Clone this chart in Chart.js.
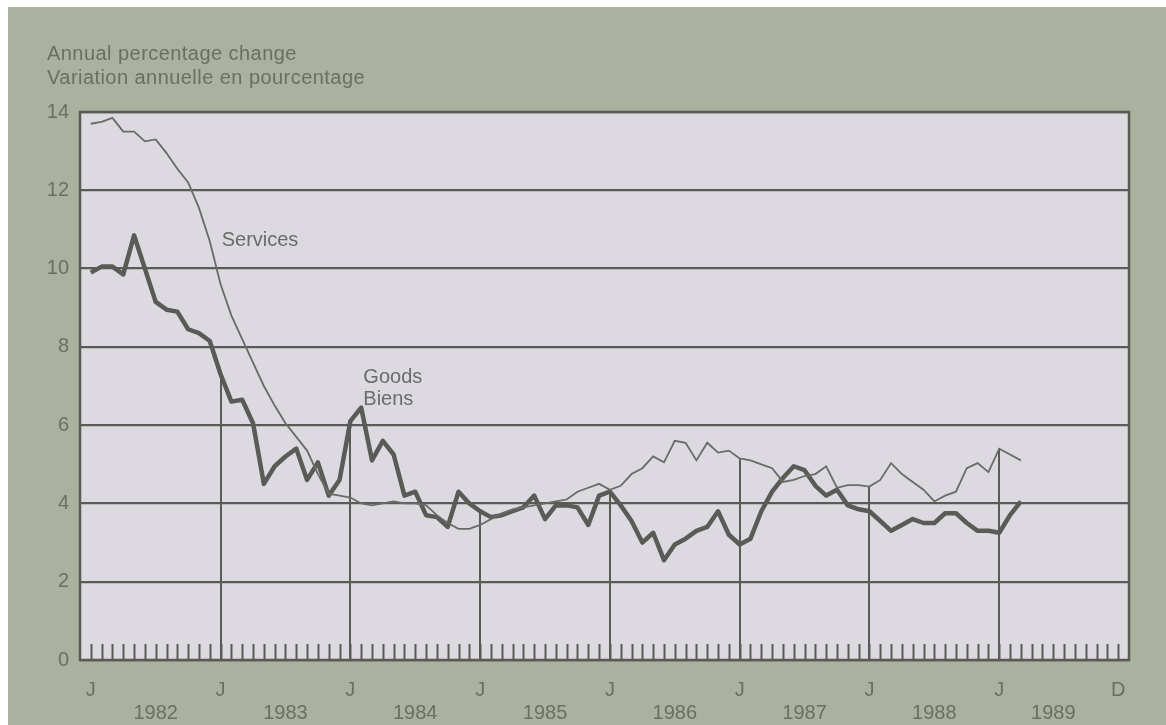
<!DOCTYPE html>
<html lang="en">
<head>
<meta charset="UTF-8">
<title>Goods and services - annual percentage change</title>
<script src="https://cdn.jsdelivr.net/npm/chart.js@4.4.0/dist/chart.umd.min.js"></script>
<style>
  body { margin: 0; background: #ffffff; }
  #wrap { position: relative; width: 1166px; height: 725px; }
  #chart { position: absolute; left: 0; top: 0; }
  #title {
    position: absolute; left: 47px; top: 41px;
    font: 20px "Liberation Sans", Arial, sans-serif; line-height: 24px;
    letter-spacing: 0.45px;
    color: #6a7060;
  }
</style>
</head>
<body>
<div id="wrap">
  <canvas id="chart" width="1166" height="725"></canvas>
  <div id="title">Annual percentage change<br>Variation annuelle en pourcentage</div>
</div>
<script>
// monthly data, index 0 = Jan 1982
const years = ['1982', '1983', '1984', '1985', '1986', '1987', '1988', '1989'];
const services = [
  13.7, 13.75, 13.85, 13.5, 13.5, 13.25, 13.3, 12.95, 12.55, 12.2, 11.55, 10.7,
  9.6, 8.8, 8.2, 7.6, 7.0, 6.5, 6.05, 5.7, 5.35, 4.75, 4.25, 4.2,
  4.15, 4.0, 3.95, 4.0, 4.05, 4.0, 4.0, 3.95, 3.7, 3.5, 3.35, 3.35,
  3.45, 3.6, 3.75, 3.85, 3.9, 3.95, 4.0, 4.05, 4.1, 4.3, 4.4, 4.5,
  4.35, 4.45, 4.75, 4.9, 5.2, 5.05, 5.6, 5.55, 5.1, 5.55, 5.3, 5.35,
  5.15, 5.1, 5.0, 4.9, 4.55, 4.6, 4.7, 4.75, 4.95, 4.4, 4.47, 4.47,
  4.43, 4.6, 5.03, 4.75, 4.55, 4.35, 4.05, 4.2, 4.3, 4.9, 5.03, 4.8,
  5.4, 5.25, 5.1
];
const goods = [
  9.9, 10.05, 10.05, 9.85, 10.85, 10.0, 9.15, 8.95, 8.9, 8.45, 8.35, 8.15,
  7.3, 6.6, 6.65, 6.05, 4.5, 4.95, 5.2, 5.4, 4.6, 5.05, 4.2, 4.6,
  6.1, 6.45, 5.1, 5.6, 5.25, 4.2, 4.3, 3.7, 3.65, 3.4, 4.3, 4.0,
  3.8, 3.65, 3.7, 3.8, 3.9, 4.2, 3.6, 3.95, 3.95, 3.9, 3.45, 4.2,
  4.3, 3.95, 3.55, 3.0, 3.25, 2.55, 2.95, 3.1, 3.3, 3.4, 3.8, 3.2,
  2.95, 3.1, 3.8, 4.3, 4.65, 4.95, 4.85, 4.45, 4.2, 4.35, 3.95, 3.85,
  3.8, 3.55, 3.3, 3.45, 3.6, 3.5, 3.5, 3.75, 3.75, 3.5, 3.3, 3.3,
  3.25, 3.7, 4.05
];
// height reached by the January rule of 1983..1989
const janLineTop = [7.3, 6.1, 3.8, 4.3, 5.15, 4.43, 5.4];
const yTicks = [0, 2, 4, 6, 8, 10, 12, 14];

const DARK = '#5a5b55';
const TEXT = '#6a7060';
const FONT = '"Liberation Sans", Arial, sans-serif';
const nMonths = years.length * 12;

// J under every January, D under the last December
const monthTicks = [];
years.forEach((y, k) => monthTicks.push(k * 12));
monthTicks.push(nMonths - 1);
// year names sit mid-year; the last one is nudged left of the D
const yearTicks = years.map((y, k) => (k === years.length - 1 ? k * 12 + 5 : k * 12 + 6));

const decor = {
  id: 'decor',
  beforeDraw(chart) {
    const c = chart.ctx, a = chart.chartArea;
    c.save();
    c.fillStyle = '#ffffff';
    c.fillRect(0, 0, chart.width, chart.height);
    c.fillStyle = '#abb19f';
    c.fillRect(8, 7, chart.width - 8, chart.height - 7);
    c.fillStyle = '#dcdae0';
    c.fillRect(a.left, a.top, a.right - a.left, a.bottom - a.top);
    c.restore();
  },
  beforeDatasetsDraw(chart) {
    const c = chart.ctx, a = chart.chartArea;
    const xs = chart.scales.x, ys = chart.scales.y;
    c.save();
    c.strokeStyle = DARK;
    c.lineWidth = 2;
    // small monthly ticks along the bottom
    for (let i = 0; i < nMonths; i++) {
      const px = Math.round(xs.getPixelForValue(i)) + 0.5;
      c.beginPath();
      c.moveTo(px, a.bottom);
      c.lineTo(px, a.bottom - 16);
      c.stroke();
    }
    // January rules
    janLineTop.forEach((v, k) => {
      const px = Math.round(xs.getPixelForValue((k + 1) * 12));
      c.beginPath();
      c.moveTo(px, ys.getPixelForValue(0));
      c.lineTo(px, ys.getPixelForValue(v));
      c.stroke();
    });
    // frame
    c.lineWidth = 2.5;
    c.strokeRect(a.left, a.top, a.right - a.left, a.bottom - a.top);
    c.restore();
  },
  afterDatasetsDraw(chart) {
    const c = chart.ctx;
    const xs = chart.scales.x, ys = chart.scales.y;
    c.save();
    c.fillStyle = '#6b6b68';
    c.font = '20px ' + FONT;
    c.textBaseline = 'middle';
    c.fillText('Services', xs.getPixelForValue(12.1), ys.getPixelForValue(10.73));
    c.fillText('Goods', xs.getPixelForValue(25.2), ys.getPixelForValue(7.23));
    c.fillText('Biens', xs.getPixelForValue(25.2), ys.getPixelForValue(6.66));
    c.restore();
  }
};

new Chart(document.getElementById('chart'), {
  type: 'line',
  data: {
    datasets: [
      {
        label: 'Services',
        data: services.map((v, i) => ({ x: i, y: v })),
        borderColor: '#6a6a66',
        borderWidth: 1.8,
        pointRadius: 0,
        tension: 0
      },
      {
        label: 'Goods',
        data: goods.map((v, i) => ({ x: i, y: v })),
        borderColor: '#5a5a56',
        borderWidth: 4.5,
        pointRadius: 0,
        tension: 0,
        borderJoinStyle: 'round'
      }
    ]
  },
  options: {
    responsive: false,
    animation: false,
    layout: { padding: { top: 112, right: 37, left: 0, bottom: 0 } },
    plugins: { legend: { display: false }, tooltip: { enabled: false } },
    scales: {
      x: {
        type: 'linear', position: 'bottom', min: -1, max: nMonths,
        grid: { display: false, drawTicks: false },
        border: { display: false },
        afterBuildTicks: s => { s.ticks = monthTicks.map(v => ({ value: v })); },
        afterFit: s => { s.height = 36; },
        ticks: {
          autoSkip: false, maxRotation: 0, padding: 18,
          color: TEXT, font: { size: 20, family: FONT },
          callback: v => (v === nMonths - 1 ? 'D' : 'J')
        }
      },
      x2: {
        type: 'linear', position: 'bottom', min: -1, max: nMonths,
        grid: { display: false, drawTicks: false },
        border: { display: false },
        afterBuildTicks: s => { s.ticks = yearTicks.map(v => ({ value: v })); },
        afterFit: s => { s.height = 29; },
        ticks: {
          autoSkip: false, maxRotation: 0, padding: 5,
          color: TEXT, font: { size: 20, family: FONT },
          callback: (v, idx) => years[idx]
        }
      },
      y: {
        min: 0, max: 14,
        afterBuildTicks: s => { s.ticks = yTicks.map(v => ({ value: v })); },
        afterFit: s => { s.width = 80; },
        grid: { color: DARK, lineWidth: 2.2, drawTicks: false },
        border: { display: false },
        ticks: { padding: 11, color: TEXT, font: { size: 20, family: FONT } }
      }
    }
  },
  plugins: [decor]
});
</script>
</body>
</html>
